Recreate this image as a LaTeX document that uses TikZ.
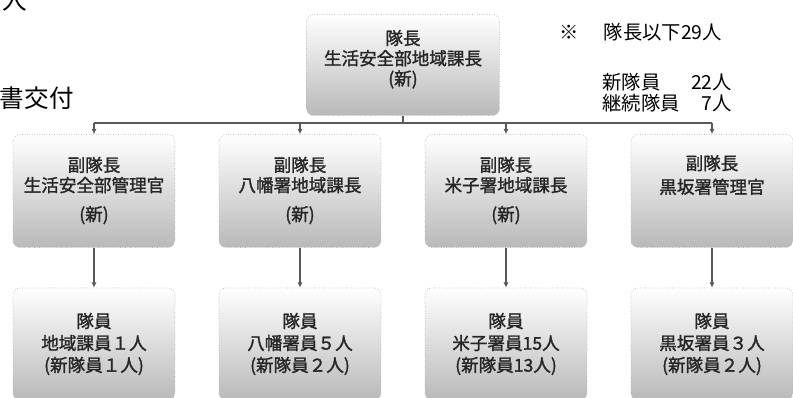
\documentclass[tikz,border=0pt]{standalone}
\usepackage{fontspec}
\setmainfont{Noto Sans CJK JP}[AutoFakeBold=1.5]
\usepackage{tikz}
\usetikzlibrary{arrows.meta}

\begin{document}
\begin{tikzpicture}[x=0.02cm, y=-0.02cm]
    % Styles
    \tikzstyle{unit} = [rectangle, rounded corners=4pt, draw=gray!55, densely dotted, top color=white, middle color=white, bottom color=gray!55, align=center, text=black!85, font=\fontsize{10}{11.5}\selectfont\bfseries]
    \tikzstyle{chiefbox} = [unit, minimum width=3.86cm, minimum height=2.02cm]
    \tikzstyle{vicebox} = [unit, minimum width=3.24cm, minimum height=2.26cm]
    \tikzstyle{memberbox} = [unit, minimum width=3.24cm, minimum height=2.24cm, font=\fontsize{10}{12.5}\selectfont\bfseries]
    \tikzstyle{conn} = [draw=black!65, line width=1.4pt]
    \tikzstyle{arrow} = [conn, -{Latex[length=3pt, width=3pt]}]
    \tikzstyle{note} = [font=\fontsize{11}{12}\selectfont, inner sep=0pt]

    \useasboundingbox (0,0) rectangle (793,398);
    \clip (0,0) rectangle (793,398);

    % Text cut off at the left
    \node[note, font=\fontsize{14}{16}\selectfont, anchor=south east] (cutA) at (27,12) {人};
    \node[note, font=\fontsize{14}{16}\selectfont, anchor=east] (cutB) at (74,98) {書交付};

    % Nodes
    \node[chiefbox] (chief) at (403,65) {隊長\\生活安全部地域課長\\(新)\\[-3pt]};

    \node[vicebox] (vice1) at (94,191) {副隊長\\生活安全部管理官\\[5pt](新)\\[-9pt]};
    \node[vicebox] (vice2) at (300,191) {副隊長\\八幡署地域課長\\[5pt](新)\\[-9pt]};
    \node[vicebox] (vice3) at (506,191) {副隊長\\米子署地域課長\\[5pt](新)\\[-9pt]};
    \node[vicebox] (vice4) at (712,191) {副隊長\\[2pt]黒坂署管理官\\[5pt]\phantom{(新)}\\[-9pt]};

    \node[memberbox] (member1) at (94,344) {隊員\\地域課員１人\\(新隊員１人)};
    \node[memberbox] (member2) at (300,344) {隊員\\八幡署員５人\\(新隊員２人)};
    \node[memberbox] (member3) at (506,344) {隊員\\米子署員15人\\(新隊員13人)};
    \node[memberbox] (member4) at (712,344) {隊員\\黒坂署員３人\\(新隊員２人)};

    % Note
    \node[note, anchor=west] (total) at (559,32) {※\hspace{1.3em}隊長以下29人};
    \node[note, anchor=north west] (split) at (602,73) {\begin{tabular}{@{}l@{\hspace{0.6em}}r@{}}新隊員 & 22人\\[-1pt] 継続隊員 & 7人\end{tabular}};

    % Arrows
    \coordinate (bar) at (403,123);
    \draw[conn] (chief.south) -- (bar);
    \draw[conn] (vice1.north |- bar) -- (vice4.north |- bar);
    \foreach \i in {1,...,4} {
        \draw[arrow] (vice\i.north |- bar) -- (vice\i.north);
        \draw[arrow] (vice\i.south) -- (member\i.north);
    }
\end{tikzpicture}
\end{document}
